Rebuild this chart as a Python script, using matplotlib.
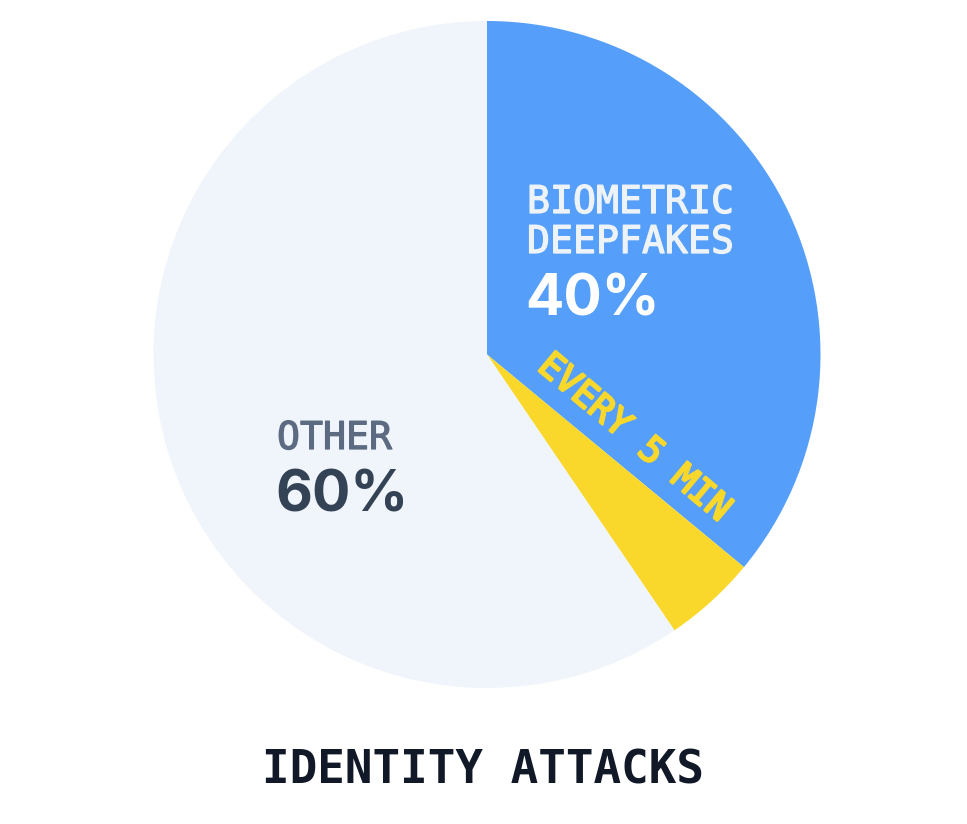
import matplotlib
matplotlib.use("Agg")
import matplotlib.pyplot as plt
import matplotlib.patheffects as pe

# slice data (clockwise from 12 o'clock)
labels = ["Biometric deepfakes", "Every 5 min", "Other"]
values = [36, 4.5, 59.5]
colors = ["#559FFA", "#FAD82B", "#EFF5FA"]

W, H = 967, 824
fig = plt.figure(figsize=(W / 100, H / 100), dpi=100)
ax = fig.add_axes([0, 0, 1, 1])

ax.pie(values, colors=colors, startangle=90, counterclock=False,
       center=(487, H - 354.5), radius=333.5,
       wedgeprops=dict(linewidth=0), frame=True)
ax.set_xlim(0, W)
ax.set_ylim(0, H)
ax.axis("off")

mono = "DejaVu Sans Mono"
sans = "Inter"


def thick(c, w=0.9):
    # DejaVu Sans Mono has no medium weight, fake it with a thin stroke
    return [pe.withStroke(linewidth=w, foreground=c)]


# blue slice labels
ax.text(527, H - 213, "BIOMETRIC", fontsize=27.5, family=mono, color="#EEF3F8",
        ha="left", va="baseline", path_effects=thick("#EEF3F8"))
ax.text(527, H - 253, "DEEPFAKES", fontsize=27.5, family=mono, color="#EEF3F8",
        ha="left", va="baseline", path_effects=thick("#EEF3F8"))
ax.text(525, H - 315, "40%", fontsize=41, family=sans, weight="bold", color="white",
        ha="left", va="baseline")

# yellow slice label, along the edge
ax.text(634, H - 438, "EVERY 5 MIN", fontsize=26, family=mono,
        color="#FAD82B", ha="center", va="center", rotation=-40,
        rotation_mode="anchor", path_effects=thick("#FAD82B", 1.6))

# other slice labels
ax.text(277, H - 449, "OTHER", fontsize=27.5, family=mono, color="#5D6B82",
        ha="left", va="baseline", path_effects=thick("#5D6B82"))
ax.text(275, H - 512, "60%", fontsize=41, family=sans, weight="bold", color="#344256",
        ha="left", va="baseline")

# title
ax.text(483, H - 783, "IDENTITY ATTACKS", fontsize=33, family=mono, weight="bold",
        color="#111827", ha="center", va="baseline")

fig.savefig("out.png", dpi=100, facecolor="white")
